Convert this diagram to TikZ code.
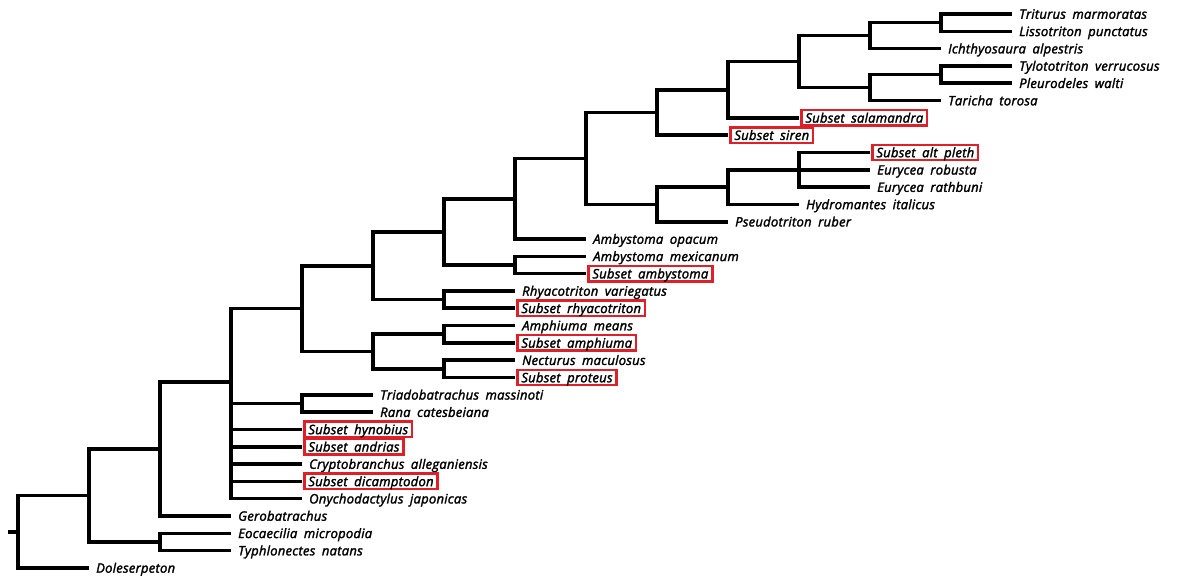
\documentclass[tikz,border=0pt]{standalone}
\usepackage{fontspec}
\newfontfamily\taxonfont{Open Sans}[WordSpace=1.8, LetterSpace=2, FakeBold=2]
\definecolor{subsetred}{RGB}{222,32,40}

\begin{document}
\begin{tikzpicture}[x=1pt, y=-1pt,
    branch/.style={line width=3.6pt},
    taxon/.style={anchor=west, inner xsep=7pt, inner ysep=3pt,
      text height=9.5pt, text depth=0pt,
      font=\taxonfont\itshape\fontsize{13}{15}\selectfont},
    subset/.style={taxon, draw=subsetred, line width=2.4pt,
      inner xsep=4pt, outer sep=2.4pt}]
  \useasboundingbox[fill=white] (0,0) rectangle (1186,576);

  % leaves, top to bottom; level = column where the branch ends
  \foreach \name/\lvl/\sty/\txt [count=\i] in {
      tritur/14/taxon/Triturus marmoratas,
      lisso/14/taxon/Lissotriton punctatus,
      ichthyo/13/taxon/Ichthyosaura alpestris,
      tyloto/14/taxon/Tylototriton verrucosus,
      pleuro/14/taxon/Pleurodeles walti,
      taricha/13/taxon/Taricha torosa,
      salam/11/subset/Subset salamandra,
      siren/10/subset/Subset siren,
      altpleth/12/subset/Subset alt pleth,
      eurrob/12/taxon/Eurycea robusta,
      eurrath/12/taxon/Eurycea rathbuni,
      hydro/11/taxon/Hydromantes italicus,
      pseudo/10/taxon/Pseudotriton ruber,
      ambopa/8/taxon/Ambystoma opacum,
      ambmex/8/taxon/Ambystoma mexicanum,
      ambyst/8/subset/Subset ambystoma,
      rhyvar/7/taxon/Rhyacotriton variegatus,
      rhyaco/7/subset/Subset rhyacotriton,
      amphme/7/taxon/Amphiuma means,
      amphi/7/subset/Subset amphiuma,
      nectur/7/taxon/Necturus maculosus,
      proteus/7/subset/Subset proteus,
      triado/5/taxon/Triadobatrachus massinoti,
      rana/5/taxon/Rana catesbeiana,
      hynob/4/subset/Subset hynobius,
      andrias/4/subset/Subset andrias,
      crypto/4/taxon/Cryptobranchus alleganiensis,
      dicamp/4/subset/Subset dicamptodon,
      onycho/4/taxon/Onychodactylus japonicas,
      gerob/3/taxon/Gerobatrachus,
      eocae/3/taxon/Eocaecilia micropodia,
      typhlo/3/taxon/Typhlonectes natans,
      doles/1/taxon/Doleserpeton}
    \node[\sty] (\name) at ({18+71*\lvl}, {14+17.31*(\i-1)}) {\txt};

  % internal nodes
  \foreach \name/\lvl/\y in {
      nRoot/0/531.7, nA/1/495.5, nB/2/449, nEc/2/541.95, nC/3/382,
      nD/4/308.6, nTr/4/403.45, nE/5/265.7, nF/5/351.55,
      nG/6/231.8, nRh/6/299.65, nAp/6/334.25, nNe/6/368.85,
      nH/7/198.7, nAm/7/264.95, nI/8/158.45, nJ/9/112.5, nK/9/204.4,
      nL/10/89.75, nR/10/187.1, nM/11/61.6, nS/11/169.8,
      nN/12/35.6, nO/12/87.6, nP/13/22.65, nQ/13/74.55}
    \coordinate (\name) at ({18+71*\lvl}, \y);
  \coordinate (stub) at (8, 531.7);

  % branches
  \draw[branch] (stub) -- (nRoot);
  \foreach \p/\c in {
      nRoot/nA, nRoot/doles.west,
      nA/nB, nA/nEc,
      nEc/eocae.west, nEc/typhlo.west,
      nB/nC, nB/gerob.west,
      nC/nD, nC/nTr, nC/hynob.west, nC/andrias.west, nC/crypto.west,
      nC/dicamp.west, nC/onycho.west,
      nTr/triado.west, nTr/rana.west,
      nD/nE, nD/nF,
      nF/nAp, nF/nNe,
      nAp/amphme.west, nAp/amphi.west,
      nNe/nectur.west, nNe/proteus.west,
      nE/nG, nE/nRh,
      nRh/rhyvar.west, nRh/rhyaco.west,
      nG/nH, nG/nAm,
      nAm/ambmex.west, nAm/ambyst.west,
      nH/nI, nH/ambopa.west,
      nI/nJ, nI/nK,
      nK/nR, nK/pseudo.west,
      nR/nS, nR/hydro.west,
      nS/altpleth.west, nS/eurrob.west, nS/eurrath.west,
      nJ/nL, nJ/siren.west,
      nL/nM, nL/salam.west,
      nM/nN, nM/nO,
      nN/nP, nN/ichthyo.west,
      nP/tritur.west, nP/lisso.west,
      nO/nQ, nO/taricha.west,
      nQ/tyloto.west, nQ/pleuro.west}
    \draw[branch] (\p) |- (\c);
\end{tikzpicture}
\end{document}
